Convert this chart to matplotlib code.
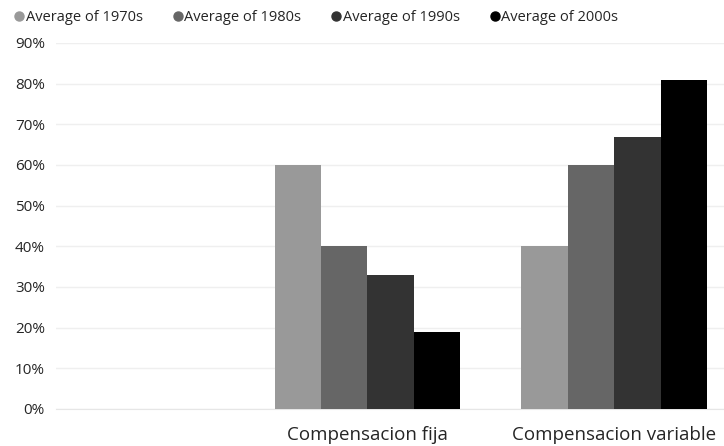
import matplotlib
matplotlib.use('Agg')
import matplotlib.pyplot as plt
from matplotlib.lines import Line2D

# categories and series values (fraction of total)
categories = ['', 'Compensacion fija', 'Compensacion variable']
series_names = ['Average of 1970s', 'Average of 1980s', 'Average of 1990s', 'Average of 2000s']
avg_1970s = [0, 0.60, 0.40]
avg_1980s = [0, 0.40, 0.60]
avg_1990s = [0, 0.33, 0.67]
avg_2000s = [0, 0.19, 0.81]
colors = ['#999999', '#666666', '#333333', '#000000']

plt.rcParams['font.family'] = ['Open Sans', 'DejaVu Sans']

fig = plt.figure(figsize=(7.24, 4.46), dpi=100)
ax = fig.add_axes([56 / 724, 37 / 446, (724 - 56) / 724, (409 - 43) / 446])

width = 0.188
series = [avg_1970s, avg_1980s, avg_1990s, avg_2000s]
for i, vals in enumerate(series):
    xs = [c + (i - 1.5) * width for c in range(len(categories))]
    ax.bar(xs, vals, width=width, color=colors[i], zorder=3)

ax.set_xlim(-0.262, 2.445)
ax.set_ylim(0, 0.9)
ax.set_yticks([i / 10 for i in range(10)])
ax.set_yticklabels(['%d%%' % (i * 10) for i in range(10)], fontsize=11, color='#252525')
ax.set_xticks(range(len(categories)))
ax.set_xticklabels(categories, fontsize=13.5, color='#252525')
ax.tick_params(axis='both', length=0)
ax.tick_params(axis='y', pad=8)
ax.tick_params(axis='x', pad=12)
ax.grid(axis='y', color='#efefef', linewidth=1, zorder=0)
for s in ['top', 'right', 'left']:
    ax.spines[s].set_visible(False)
ax.spines['bottom'].set_color('#e6e6e6')

handles = [Line2D([], [], marker='o', linestyle='', markersize=6.5,
                  markerfacecolor=c, markeredgecolor=c) for c in colors]
fig.legend(handles, series_names, loc='upper left', bbox_to_anchor=(0.003, 1.0),
           ncol=4, frameon=False, fontsize=10.5, handletextpad=0.0,
           columnspacing=1.95, handlelength=0.9, labelcolor='#252525',
           borderaxespad=0.3)

fig.savefig('out.png', dpi=100)
